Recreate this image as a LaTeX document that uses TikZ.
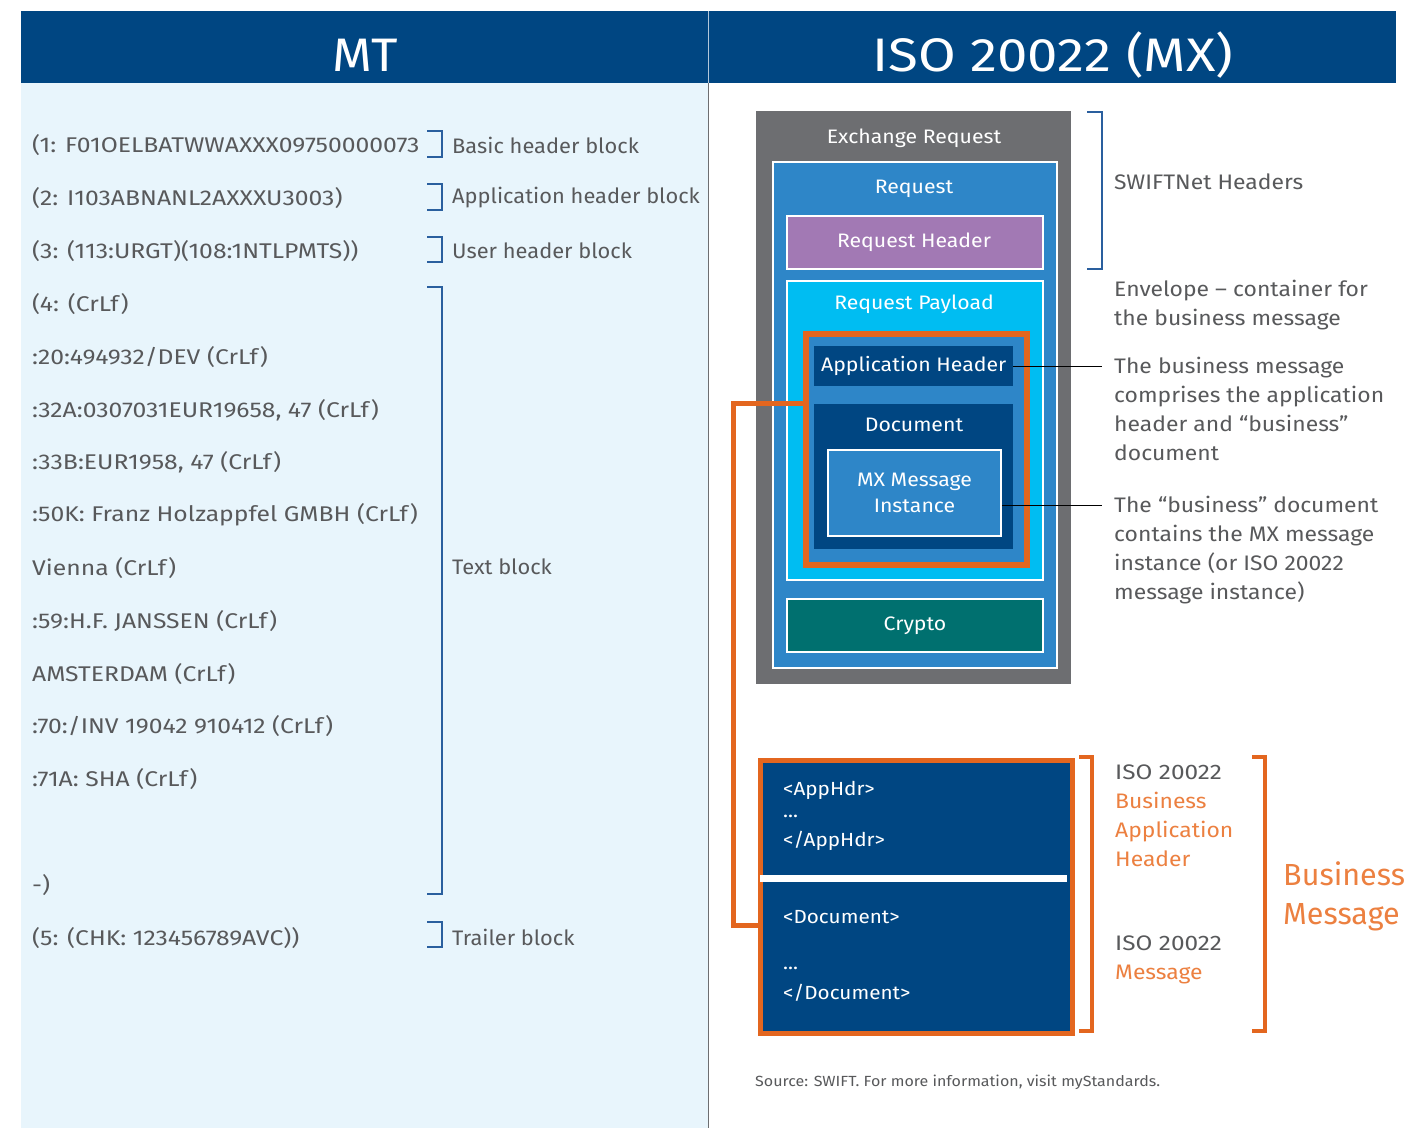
\documentclass[tikz,border=0pt]{standalone}
\usepackage{fontspec}
\setmainfont{Fira Sans}[FakeStretch=1.09]
\newfontfamily\codef{Fira Sans}[FakeStretch=1.16]
\newfontfamily\lblf{Fira Sans}[FakeStretch=1.04]
\newfontfamily\plainf{Fira Sans}
\definecolor{navy}{HTML}{004682}
\definecolor{lightbg}{HTML}{E8F5FC}
\definecolor{boxgray}{HTML}{6D6E71}
\definecolor{reqblue}{HTML}{2E86C8}
\definecolor{purp}{HTML}{A279B4}
\definecolor{cyanb}{HTML}{00BDF2}
\definecolor{orng}{HTML}{E3661F}
\definecolor{orngtxt}{HTML}{EC8040}
\definecolor{teal}{HTML}{00706F}
\definecolor{txtgray}{HTML}{58595B}
\definecolor{brkblue}{HTML}{2A5F9E}
\begin{document}
\begin{tikzpicture}[x=1pt,y=-1pt,
  fs/.style={font=\fontsize{#1}{#1}\selectfont},
  mtline/.style={anchor=west, text=txtgray, inner sep=0pt, font=\codef\fontsize{21.3}{21}\selectfont},
  lbl/.style={anchor=west, text=txtgray, inner sep=0pt, font=\lblf\fontsize{21}{21}\selectfont},
  rlbl/.style={anchor=west, text=txtgray, inner sep=0pt, fs=21},
  note/.style={anchor=north west, text=txtgray, inner sep=0pt, align=left, font=\fontsize{21}{29}\selectfont},
  brk/.style={draw=brkblue, line width=1.3pt},
  obrk/.style={draw=orng, line width=4.5pt},
  box/.style={draw=white, line width=2pt, inner sep=0pt},
  wtxt/.style={text=white, inner sep=0pt, fs=19.5},
  code/.style={anchor=west, text=white, inner sep=0pt, fs=19},
  leader/.style={draw=black, line width=0.8pt}]
\useasboundingbox (0,0) rectangle (1408,1128);
\fill[white] (0,0) rectangle (1408,1128);
% panels
\fill[lightbg] (21,83) rectangle (708,1128);
\fill[navy] (21,11) rectangle (1396,83);
\draw[white!70!navy, line width=1pt] (708.5,11) -- (708.5,83);
\draw[boxgray, line width=1pt] (708.5,83) -- (708.5,1128);
\node[text=white, inner sep=0pt, fs=47] (mt) at (365,55) {MT};
\node[text=white, inner sep=0pt, font=\codef\fontsize{47}{47}\selectfont] (mx) at (1053,55) {ISO 20022 (MX)};
% MT lines
\node[mtline] (l1) at (32,145) {(1: F01OELBATWWAXXX09750000073};
\node[mtline] (l2) at (32,198) {(2: I103ABNANL2AXXXU3003)};
\node[mtline] (l3) at (32,251) {(3: (113:URGT)(108:1NTLPMTS))};
\node[mtline] (l4) at (32,304) {(4: (CrLf)};
\node[mtline] (l5) at (32,357) {:20:494932/DEV (CrLf)};
\node[mtline] (l6) at (32,410) {:32A:0307031EUR19658, 47 (CrLf)};
\node[mtline] (l7) at (32,462) {:33B:EUR1958, 47 (CrLf)};
\node[mtline] (l8) at (32,515) {:50K: Franz Holzappfel GMBH (CrLf)};
\node[mtline] (l9) at (32,568) {Vienna (CrLf)};
\node[mtline] (l10) at (32,621) {:59:H.F. JANSSEN (CrLf)};
\node[mtline] (l11) at (32,674) {AMSTERDAM (CrLf)};
\node[mtline] (l12) at (32,726) {:70:/INV 19042 910412 (CrLf)};
\node[mtline] (l13) at (32,779) {:71A: SHA (CrLf)};
\node[mtline] (l14) at (32,885) {-)};
\node[mtline] (l15) at (32,938) {(5: (CHK: 123456789AVC))};
% MT brackets
\draw[brk] (427,131) -- (442,131) -- (442,157) -- (427,157);
\draw[brk] (427,184) -- (442,184) -- (442,210) -- (427,210);
\draw[brk] (427,237) -- (442,237) -- (442,262) -- (427,262);
\draw[brk] (427,287) -- (442,287) -- (442,894) -- (427,894);
\draw[brk] (427,922) -- (442,922) -- (442,947) -- (427,947);
\node[lbl] (b1) at (452,145) {Basic header block};
\node[lbl] (b2) at (452,198) {Application header block};
\node[lbl] (b3) at (452,251) {User header block};
\node[lbl] (b4) at (452,567) {Text block};
\node[lbl] (b5) at (452,937) {Trailer block};
% MX structure
\node[fill=boxgray, inner sep=0pt, minimum width=315, minimum height=573, anchor=north west] (exch) at (756,111) {};
\node[wtxt] (exchT) at (914,138) {Exchange Request};
\node[box, fill=reqblue, minimum width=284, minimum height=506, anchor=north west] (req) at (772,161) {};
\node[wtxt] (reqT) at (914,189) {Request};
\node[box, fill=purp, minimum width=256, minimum height=53, anchor=north west] (rh) at (786,215) {};
\node[wtxt] (rhT) at (914,242) {Request Header};
\node[box, fill=cyanb, minimum width=256, minimum height=299, anchor=north west] (rp) at (786,280) {};
\node[wtxt] (rpT) at (914,304) {Request Payload};
\node[draw=orng, line width=6pt, fill=reqblue, inner sep=0pt, minimum width=221, minimum height=231, anchor=north west] (ob) at (803,331) {};
\node[fill=navy, inner sep=0pt, minimum width=199, minimum height=40, anchor=north west, text=white, fs=19.5] (ah) at (814,346) {Application Header};
\node[fill=navy, inner sep=0pt, minimum width=199, minimum height=145, anchor=north west] (doc) at (814,404) {};
\node[wtxt] (docT) at (914,425) {Document};
\node[box, fill=reqblue, minimum width=173, minimum height=86, anchor=north west, text=white, align=center, font=\fontsize{19.5}{26}\selectfont] (mxi) at (827,449) {MX Message\\Instance};
\node[box, fill=teal, minimum width=256, minimum height=53, anchor=north west, text=white, fs=19.5] (cr) at (786,598) {Crypto};
% leaders
\coordinate (la) at (1102,366);
\coordinate (lb) at (1102,505);
\draw[leader] (ah.east |- la) -- (la);
\draw[leader] (mxi.east |- lb) -- (lb);
% right notes
\draw[brk] (1087,112) -- (1102,112) -- (1102,269) -- (1087,269);
\node[rlbl] (sw) at (1114,182) {SWIFTNet Headers};
\node[note] (env) at (1114,280) {Envelope -- container for\\the business message};
\node[note] (bm) at (1114,357) {The business message\\comprises the application\\header and “business”\\document};
\node[note] (bd) at (1114,496) {The “business” document\\contains the MX message\\instance (or ISO 20022\\message instance)};
% bottom box
\node[draw=orng, line width=5pt, fill=navy, inner sep=0pt, minimum width=312, minimum height=273, anchor=north west] (bb) at (757.5,757.5) {};
\fill[white] (760,875) rectangle (1067,882);
\node[code] (c1) at (783,790) {<AppHdr>};
\node[code] (c2) at (783,816) {...};
\node[code] (c3) at (783,841) {</AppHdr>};
\node[code] (c4) at (783,917) {<Document>};
\node[code] (c5) at (783,968) {...};
\node[code] (c6) at (783,993) {</Document>};
% orange connector
\coordinate (oc) at (733,403);
\draw[orng, line width=5pt] (ob.west |- oc) -- (oc) -- (733,925) -- (bb.west |- 0,925);
% orange brackets
\draw[obrk] (1079,757) -- (1092,757) -- (1092,1031) -- (1079,1031);
\draw[obrk] (1252,757) -- (1265,757) -- (1265,1031) -- (1252,1031);
\node[note] (iso1) at (1115,765) {{\codef ISO 20022}\\\textcolor{orngtxt}{Business}\\\textcolor{orngtxt}{Application}\\\textcolor{orngtxt}{Header}};
\node[note] (iso2) at (1115,936) {{\codef ISO 20022}\\\textcolor{orngtxt}{Message}};
\node[anchor=west, text=orngtxt, inner sep=0pt, align=left, font=\plainf\fontsize{30.5}{39}\selectfont] (bmsg) at (1283,896) {Business\\Message};
\node[anchor=west, text=txtgray, inner sep=0pt, fs=14.7] (src) at (755,1082) {Source: SWIFT. For more information, visit myStandards.};
\end{tikzpicture}
\end{document}
